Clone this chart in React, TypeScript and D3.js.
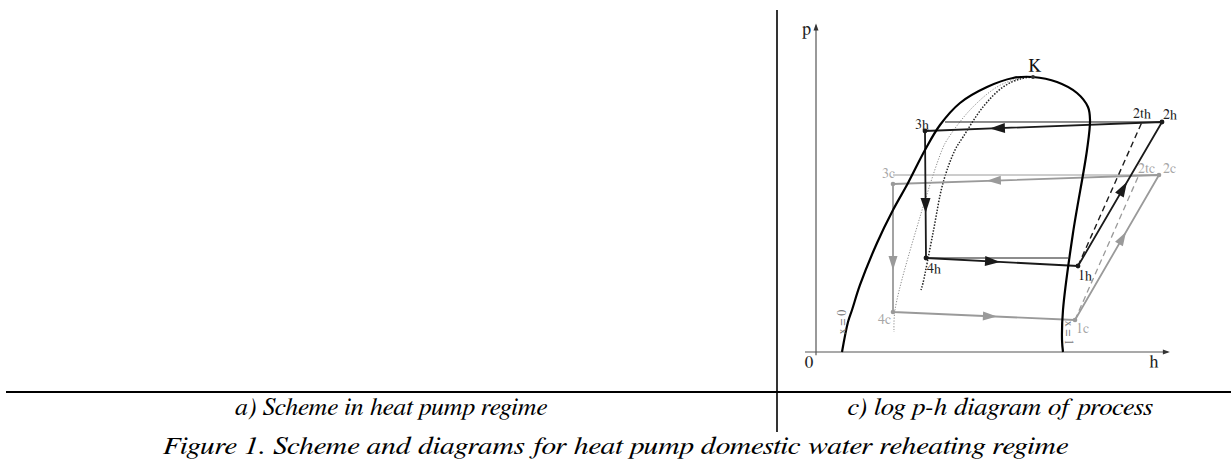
import React from 'react';
import * as d3 from 'd3';

// ---------- data (diagram units: enthalpy h, pressure p, 0..100) ----------
const liquidLine: [number, number][] = [
  [7.43, 0], [9.14, 9.23], [10.29, 12.92], [12.57, 20.62], [17.43, 33.54], [22.0, 43.69],
  [26.29, 52.0], [31.14, 62.15], [35.43, 69.85], [41.14, 76.62], [48.86, 81.54], [56.29, 84.31], [62.0, 84.62],
];
const vaporLine: [number, number][] = [
  [62.0, 84.62], [68.86, 83.08], [74.57, 79.69], [77.71, 75.38], [78.29, 71.38], [77.43, 62.15],
  [73.43, 36.62], [70.57, 12.92], [70.29, 3.69], [70.57, 0],
];
const criticalPoint: [number, number] = [62.0, 84.62];
const qualityLineGray: [number, number][] = [
  [62.0, 84.62], [57.43, 84.0], [51.71, 81.54], [44.0, 74.46], [37.43, 65.23], [36.0, 62.15],
  [29.71, 41.54], [22.57, 12.92], [22.29, 6.15],
];
const qualityLineBlack: [number, number][] = [
  [62.0, 84.62], [58.29, 84.0], [53.43, 81.54], [47.71, 75.38], [42.0, 66.15], [39.71, 62.15],
  [36.29, 52.0], [33.43, 36.62], [30.57, 21.23], [30.0, 19.08],
];

const heatingNames = ['1h', '2h', '3h', '4h'];
const heatingH = [74.86, 98.86, 31.14, 31.43];
const heatingP = [26.46, 70.77, 68.0, 28.92];
const heatingIsentropic: [string, number, number] = ['2th', 93.14, 70.77];
const heatingCondIsobar: [number, number][] = [[36.86, 70.77], [98.86, 70.77]];
const heatingEvapIsobar: [number, number][] = [[31.43, 28.92], [72.0, 28.92]];

const coolingNames = ['1c', '2c', '3c', '4c'];
const coolingH = [74.0, 98.0, 22.0, 22.0];
const coolingP = [9.85, 54.46, 51.69, 12.31];
const coolingIsentropic: [string, number, number] = ['2tc', 92.0, 53.85];
const coolingCondIsobar: [number, number][] = [[22.0, 54.46], [98.0, 54.46]];

const qualityLabels = ['x = 0', 'x = 1'];
const axisLabels = ['p', 'h', '0'];
const panelCaptions = ['a) Scheme in heat pump regime', 'c) log p-h diagram of process'];
const figureTitle = 'Figure 1. Scheme and diagrams for heat pump domestic water reheating regime';

// ---------- component ----------
const W = 1231;
const H = 474;

export default function App() {
  const x = d3.scaleLinear().domain([0, 100]).range([816, 1166]);
  const y = d3.scaleLinear().domain([0, 100]).range([352, 27]);

  const curve = d3
    .line<[number, number]>()
    .x((d) => x(d[0]))
    .y((d) => y(d[1]))
    .curve(d3.curveCatmullRom.alpha(0.5));
  const straight = d3
    .line<[number, number]>()
    .x((d) => x(d[0]))
    .y((d) => y(d[1]));

  const dome = [...liquidLine, ...vaporLine.slice(1)];

  const hp = (H_: number[], P_: number[]) => H_.map((h, i) => [h, P_[i]] as [number, number]);
  const hPts = hp(heatingH, heatingP);
  const cPts = hp(coolingH, coolingP);

  const arrow = (a: [number, number], b: [number, number], t: number, len: number, wid: number) => {
    const ax = x(a[0]), ay = y(a[1]), bx = x(b[0]), by = y(b[1]);
    const dx = bx - ax, dy = by - ay;
    const L = Math.hypot(dx, dy);
    const ux = dx / L, uy = dy / L;
    const tx = ax + dx * t, ty = ay + dy * t;
    const bxx = tx - ux * len, byy = ty - uy * len;
    const nx = -uy, ny = ux;
    return `M${tx},${ty}L${bxx + (nx * wid) / 2},${byy + (ny * wid) / 2}L${bxx - (nx * wid) / 2},${byy - (ny * wid) / 2}Z`;
  };

  const hFrac = [0.583, 0.726, 0.646, 0.487];
  const cFrac = [0.607, 0.647, 0.672, 0.571];

  const black = '#1a1a1a';
  const gray = '#9a9a9a';
  const grayText = '#a6a6a6';
  const serif = 'FreeSerif, Liberation Serif, serif';
  const sf = { fontFamily: serif } as React.CSSProperties;
  const sfi = { fontFamily: serif, fontStyle: 'italic' } as React.CSSProperties;

  const hLabelOff: Record<string, [number, number]> = {
    '1h': [0, 14], '2h': [1, -3], '3h': [-10, -2], '4h': [1, 15],
  };
  const cLabelOff: Record<string, [number, number]> = {
    '1c': [1, 13], '2c': [4, -2], '3c': [-11, -6], '4c': [-15, 12],
  };

  return (
    <svg width={W} height={H} style={{ position: 'absolute', left: 0, top: 0, background: '#fff' }}>
      <rect x={0} y={0} width={W} height={H} fill="#fff" />

      {/* frame lines */}
      <line x1={777} y1={10} x2={777} y2={432} stroke="#000" strokeWidth={1.6} />
      <line x1={6} y1={392} x2={W} y2={392} stroke="#000" strokeWidth={2} />

      {/* axes */}
      <line x1={x(0)} y1={y(-1)} x2={x(0)} y2={y(100.5)} stroke="#555" strokeWidth={1.2} />
      <path d={`M${x(0)},${y(101.1)}L${x(0) - 2.5},${y(101.1) + 7}L${x(0) + 2.5},${y(101.1) + 7}Z`} fill="#333" />
      <line x1={x(-3.14)} y1={y(0)} x2={x(100.5)} y2={y(0)} stroke="#555" strokeWidth={1.2} />
      <path d={`M${x(101.1)},${y(0)}L${x(101.1) - 7},${y(0) - 2.5}L${x(101.1) - 7},${y(0) + 2.5}Z`} fill="#333" />
      <text x={x(0) - 5} y={y(97.5)} style={sf} fontSize={18} textAnchor="end" fill="#222">{axisLabels[0]}</text>
      <text x={x(96.6)} y={y(-4.6)} style={sf} fontSize={18} textAnchor="middle" fill="#222">{axisLabels[1]}</text>
      <text x={x(-2.0)} y={y(-4.9)} style={sf} fontSize={17} textAnchor="middle" fill="#222">{axisLabels[2]}</text>

      {/* quality lines */}
      <path d={curve(qualityLineGray) || ''} fill="none" stroke="#8a8a8a" strokeWidth={1} strokeDasharray="1.2,1.6" />
      <path d={curve(qualityLineBlack) || ''} fill="none" stroke="#222" strokeWidth={1.5} strokeDasharray="1.5,1.5" />

      {/* cooling cycle (gray) */}
      <path d={straight(coolingCondIsobar) || ''} fill="none" stroke={gray} strokeWidth={1} />
      <path d={straight([cPts[0], [coolingIsentropic[1], coolingIsentropic[2]]]) || ''} fill="none" stroke={gray} strokeWidth={1.3} strokeDasharray="6,4" />
      <path d={straight([...cPts, cPts[0]]) || ''} fill="none" stroke={gray} strokeWidth={1.8} strokeLinejoin="round" />
      {cPts.map((p, i) => (
        <path key={'ca' + i} d={arrow(p, cPts[(i + 1) % 4], cFrac[i], 14, 9)} fill={gray} />
      ))}
      {cPts.map((p, i) => (
        <circle key={'cp' + i} cx={x(p[0])} cy={y(p[1])} r={2.3} fill={gray} />
      ))}

      {/* heating cycle (black) */}
      <path d={straight(heatingCondIsobar) || ''} fill="none" stroke={black} strokeWidth={1} />
      <path d={straight(heatingEvapIsobar) || ''} fill="none" stroke={black} strokeWidth={1} />
      <path d={straight([hPts[0], [heatingIsentropic[1], heatingIsentropic[2]]]) || ''} fill="none" stroke={black} strokeWidth={1.4} strokeDasharray="6,4" />
      <path d={straight([...hPts, hPts[0]]) || ''} fill="none" stroke={black} strokeWidth={1.8} strokeLinejoin="round" />
      {hPts.map((p, i) => (
        <path key={'ha' + i} d={arrow(p, hPts[(i + 1) % 4], hFrac[i], 15, 10)} fill={black} />
      ))}
      {hPts.map((p, i) => (
        <circle key={'hp' + i} cx={x(p[0])} cy={y(p[1])} r={2.4} fill={black} />
      ))}

      {/* saturation dome */}
      <path d={curve(dome) || ''} fill="none" stroke="#000" strokeWidth={2.2} />
      <circle cx={x(criticalPoint[0])} cy={y(criticalPoint[1])} r={2} fill="#333" />
      <text x={x(criticalPoint[0]) + 2} y={y(criticalPoint[1]) - 6} style={sf} fontSize={18} textAnchor="middle" fill="#111">K</text>

      {/* point labels */}
      {heatingNames.map((n, i) => (
        <text key={n} x={x(hPts[i][0]) + hLabelOff[n][0]} y={y(hPts[i][1]) + hLabelOff[n][1]} style={sf} fontSize={14} fill="#222">{n}</text>
      ))}
      <text x={x(heatingIsentropic[1]) - 9} y={y(heatingIsentropic[2]) - 4} style={sf} fontSize={14} fill="#222">{heatingIsentropic[0]}</text>
      {coolingNames.map((n, i) => (
        <text key={n} x={x(cPts[i][0]) + cLabelOff[n][0]} y={y(cPts[i][1]) + cLabelOff[n][1]} style={sf} fontSize={14} fill={grayText}>{n}</text>
      ))}
      <text x={x(coolingIsentropic[1])} y={y(coolingIsentropic[2]) - 4} style={sf} fontSize={14} fill={grayText}>{coolingIsentropic[0]}</text>

      {/* quality labels */}
      <text transform={`translate(${x(7.71) + 3},${y(9.23)}) rotate(-90)`} style={sf} fontSize={12} textAnchor="middle" fill="#777">{qualityLabels[0]}</text>
      <text transform={`translate(${x(72.0) - 3},${y(5.85)}) rotate(90)`} style={sf} fontSize={12} textAnchor="middle" fill="#777">{qualityLabels[1]}</text>

      {/* captions */}
      <text x={391} y={415} style={sfi} fontSize={24} textAnchor="middle" textLength={312} lengthAdjust="spacingAndGlyphs" fill="#000">{panelCaptions[0]}</text>
      <text x={1000} y={415} style={sfi} fontSize={24} textAnchor="middle" textLength={305} lengthAdjust="spacingAndGlyphs" fill="#000">{panelCaptions[1]}</text>
      <text x={615.5} y={454} style={sfi} fontSize={25} textAnchor="middle" textLength={905} lengthAdjust="spacingAndGlyphs" fill="#000">{figureTitle}</text>
    </svg>
  );
}
